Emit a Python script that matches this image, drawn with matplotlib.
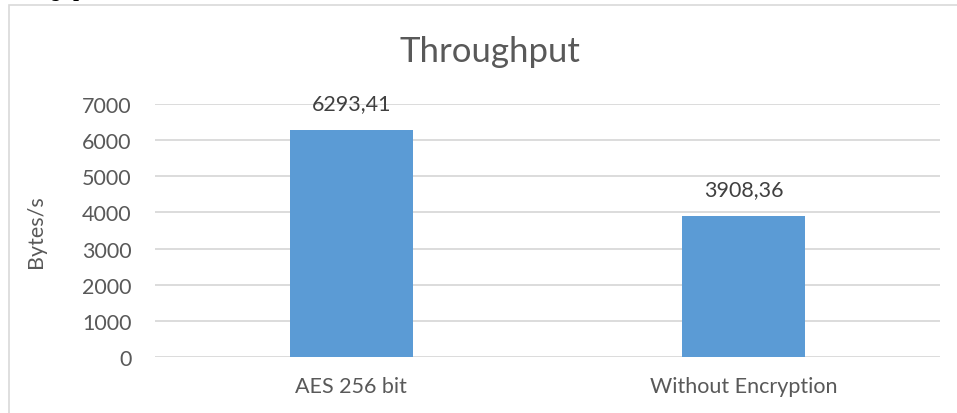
import matplotlib
matplotlib.use("Agg")
import matplotlib.pyplot as plt
from matplotlib.patches import Rectangle

categories = ["AES 256 bit", "Without Encryption"]
values = [6293.41, 3908.36]
value_labels = ["6293,41", "3908,36"]
yticks = [0, 1000, 2000, 3000, 4000, 5000, 6000, 7000]

W, H = 957, 414
fig = plt.figure(figsize=(W / 100, H / 100), dpi=100)
fig.patch.set_facecolor("white")

font = "Lato"
gray = "#595959"
fs = 15.5

# chart border (partially cropped)
fig.patches.append(Rectangle((9 / W, -0.1), 1.2, (H - 6) / H + 0.1, transform=fig.transFigure,
                             fill=False, edgecolor="#d9d9d9", linewidth=1.2))

# cropped heading text at top-left
fig.text(-2 / W, (H + 4) / H, "Throughput", family="Liberation Serif", fontsize=15,
         fontweight="bold", fontstyle="italic", color="black", va="baseline", ha="left")

ax = fig.add_axes([155 / W, 56 / H, (940 - 155) / W, (358 - 105) / H])
x = list(range(len(categories)))
bars = ax.bar(x, values, width=0.313, color="#5b9bd5", zorder=3)
ax.set_xlim(-0.5, 1.5)
ax.set_ylim(0, 7000)
ax.set_yticks(yticks)
ax.set_yticklabels([str(t) for t in yticks], family=font, fontsize=fs, color=gray)
ax.set_xticks(x)
ax.set_xticklabels(categories, family=font, fontsize=fs, color=gray)
ax.tick_params(axis="both", length=0)
ax.tick_params(axis="y", pad=17)
ax.tick_params(axis="x", pad=14)
for s in ax.spines.values():
    s.set_visible(False)
ax.grid(axis="y", color="#d9d9d9", linewidth=1.3, zorder=0)
ax.set_axisbelow(True)

for b, lab in zip(bars, value_labels):
    ax.annotate(lab, (b.get_x() + b.get_width() / 2, b.get_height()), xytext=(0, 12),
                textcoords="offset points", ha="center", va="bottom",
                family=font, fontsize=fs, color="#404040")

ax.set_ylabel("Bytes/s", family=font, fontsize=fs, color=gray, labelpad=26)
fig.text(490 / W, (H - 52) / H, "Throughput", family=font, fontsize=25, color=gray,
         ha="center", va="center")

fig.savefig("out.png", dpi=100)
